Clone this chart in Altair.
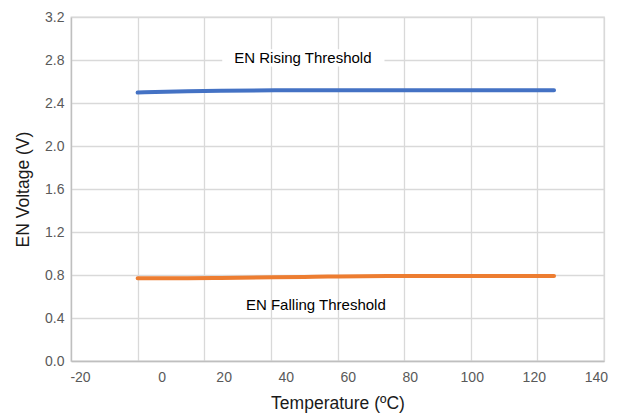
import altair as alt
import pandas as pd

temps = [0, 15, 25, 50, 75, 100, 125]
rising = [2.497, 2.51, 2.515, 2.518, 2.518, 2.518, 2.518]
falling = [0.77, 0.77, 0.772, 0.782, 0.79, 0.79, 0.79]

x_ticks = [-20, 0, 20, 40, 60, 80, 100, 120, 140]
y_ticks = [0.0, 0.4, 0.8, 1.2, 1.6, 2.0, 2.4, 2.8, 3.2]

ann_text = ["EN Rising Threshold", "EN Falling Threshold"]
ann_x = [49.6, 53.5]
ann_y = [2.82, 0.52]

df = pd.DataFrame({
    "t": temps * 2,
    "v": rising + falling,
    "s": ["EN Rising Threshold"] * len(temps) + ["EN Falling Threshold"] * len(temps),
})
ann = pd.DataFrame({"x": ann_x, "y": ann_y, "label": ann_text})
box = pd.DataFrame({"x": [25.4], "x2": [74.1], "y": [2.74], "y2": [2.9]})

FONT = "Liberation Sans"

xs = alt.Scale(domain=[-20, 140], nice=False, zero=False)
ys = alt.Scale(domain=[0, 3.2], nice=False)

base_x = alt.X("t:Q", scale=xs, title="Temperature (ºC)",
               axis=alt.Axis(values=x_ticks, labelExpr="'' + datum.value", grid=True,
                             gridColor="#d9d9d9", gridWidth=1.3, domainColor="#bfbfbf",
                             domainWidth=1.3, ticks=False, labelFlush=False,
                             labelOffset={"expr": "datum.value < -10 ? 9 : 24 - 0.23 * datum.value"},
                             labelPadding=9, labelFontSize=14, labelColor="#595959",
                             labelFont=FONT, titleFont=FONT, titleFontSize=17.5,
                             titleFontWeight="normal", titleColor="#1a1a1a", titlePadding=10))
base_y = alt.Y("v:Q", scale=ys, title="EN Voltage (V)",
               axis=alt.Axis(values=y_ticks, format=".1f", grid=True, gridColor="#d9d9d9",
                             gridWidth=1.3, domainColor="#bfbfbf", domainWidth=1.3, ticks=False,
                             labelPadding=7, labelFontSize=14, labelColor="#595959",
                             labelFont=FONT, titleFont=FONT, titleFontSize=17.5,
                             titleFontWeight="normal", titleColor="#1a1a1a", titlePadding=12))

lines = alt.Chart(df).mark_line(strokeWidth=4, strokeCap="round", interpolate="monotone").encode(
    x=base_x, y=base_y,
    color=alt.Color("s:N", scale=alt.Scale(domain=["EN Rising Threshold", "EN Falling Threshold"],
                                           range=["#4472C4", "#ED7D31"]), legend=None),
)

rect = alt.Chart(box).mark_rect(color="white").encode(
    x=alt.X("x:Q", scale=xs), x2="x2:Q", y=alt.Y("y:Q", scale=ys), y2="y2:Q")

text = alt.Chart(ann).mark_text(font=FONT, fontSize=15, color="#000000").encode(
    x=alt.X("x:Q", scale=xs), y=alt.Y("y:Q", scale=ys), text="label:N")

chart = alt.layer(rect, lines, text).properties(
    width=533, height=344,
    autosize=alt.AutoSizeParams(type="none"),
    padding={"left": 63, "top": 9, "right": 6, "bottom": 56},
).configure_view(stroke="#d9d9d9", strokeWidth=1.3)

chart.save("out.html", embed_options={"renderer": "svg", "actions": False})
